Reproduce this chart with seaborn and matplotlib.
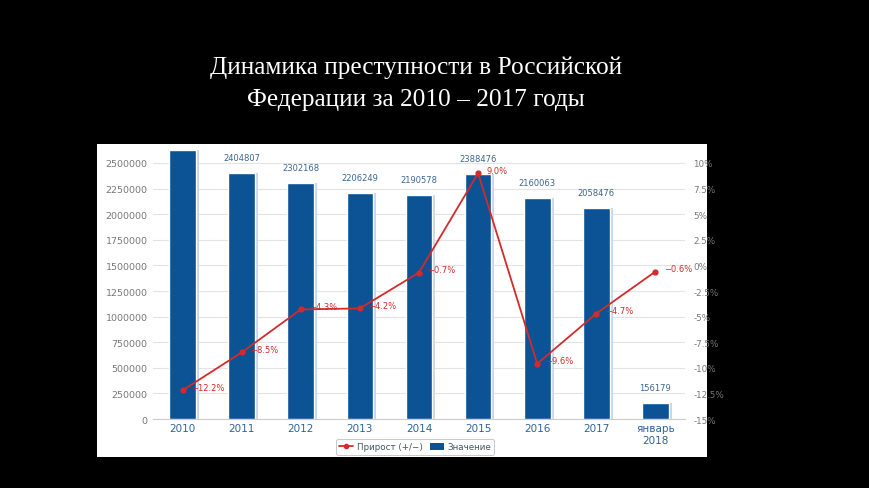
import matplotlib
matplotlib.use("Agg")
import matplotlib.pyplot as plt
import matplotlib.transforms as mtransforms
from matplotlib.patches import Rectangle, Patch
from matplotlib.lines import Line2D
import seaborn as sns
import pandas as pd

categories = ["2010", "2011", "2012", "2013", "2014", "2015", "2016", "2017", "январь\n2018"]
values = [2628799, 2404807, 2302168, 2206249, 2190578, 2388476, 2160063, 2058476, 156179]
growth = [-12.2, -8.5, -4.3, -4.2, -0.7, 9.0, -9.6, -4.7, -0.6]
left_ticks = [0, 250000, 500000, 750000, 1000000, 1250000, 1500000, 1750000, 2000000, 2250000, 2500000]
right_ticks = [-15, -12.5, -10, -7.5, -5, -2.5, 0, 2.5, 5, 7.5, 10]
right_labels = ["-15%", "-12.5%", "-10%", "-7.5%", "-5%", "-2.5%", "0%", "2.5%", "5%", "7.5%", "10%"]
title_lines = ["Динамика преступности в Российской", "Федерации за 2010 – 2017 годы"]
legend_labels = ["Прирост (+/−)", "Значение"]

df = pd.DataFrame({"cat": categories, "value": values, "growth": growth})

sns.set_theme(style="white")
plt.rcParams["font.family"] = ["DejaVu Sans"]

W, H = 870, 489
fig = plt.figure(figsize=(W / 100, H / 100), dpi=100, facecolor="black")

# white panel
fig.add_artist(Rectangle((97 / W, 1 - 458 / H), 610 / W, 313 / H,
                         transform=fig.transFigure, facecolor="white",
                         edgecolor="none", zorder=0))

for t, yy in zip(title_lines, [68, 100]):
    fig.text(416 / W, 1 - yy / H, t, color="white", ha="center", va="center",
             fontsize=18.2, family=["Liberation Serif", "DejaVu Serif"])

ax = fig.add_axes([153 / W, 1 - 420 / H, 532 / W, 273 / H])
ax.set_facecolor("white")

bar_color = "#0b5394"
sns.barplot(data=df, x="cat", y="value", order=categories, color=bar_color,
            width=0.45, saturation=1, ax=ax, zorder=3)

# subtle shadow to the right of each bar
for p in list(ax.patches):
    sh = Rectangle(p.get_xy(), p.get_width(), p.get_height(),
                   facecolor="#c9d6e6", edgecolor="none", zorder=2,
                   transform=mtransforms.offset_copy(ax.transData, fig=fig, x=3, y=0, units="dots"))
    ax.add_patch(sh)

top = 273 / 256 * 2500000
ax.set_ylim(0, top)
ax.set_xlim(-0.5, len(categories) - 0.5)
ax.set_yticks(left_ticks)
ax.set_yticklabels([str(v) for v in left_ticks])
ax.tick_params(axis="y", labelsize=6.8, colors="#777777", length=0, pad=4)
ax.tick_params(axis="x", labelsize=7.5, colors="#2e6399", length=0, pad=3)
ax.set_xlabel("")
ax.set_ylabel("")
ax.grid(axis="y", color="#e3e3e3", linewidth=0.8, zorder=0)
ax.set_axisbelow(True)
for s in ["top", "right", "left"]:
    ax.spines[s].set_visible(False)
ax.spines["bottom"].set_color("#cccccc")
ax.spines["bottom"].set_linewidth(0.8)

# value labels (clipped to the plotting area like the original)
for p, v in zip(ax.patches[:len(values)], values):
    ax.annotate(str(v), (p.get_x() + p.get_width() / 2, p.get_height()),
                xytext=(0, 8), textcoords="offset points", ha="center",
                va="bottom", fontsize=6, color="#3d6691", clip_on=True)

ax2 = ax.twinx()
ax2.set_position(ax.get_position())
sns.pointplot(data=df, x="cat", y="growth", order=categories, color="#d42a2a",
              markers="o", markersize=3.5, linewidth=1.3, ax=ax2, zorder=5)
ax2.set_ylim(-15, top / 100000 - 15)
ax2.set_xlim(-0.5, len(categories) - 0.5)
ax2.set_yticks(right_ticks)
ax2.set_yticklabels(right_labels)
ax2.tick_params(axis="y", labelsize=6.3, colors="#777777", length=0, pad=6)
ax2.set_ylabel("")
ax2.set_xlabel("")
for s in ax2.spines.values():
    s.set_visible(False)
ax2.grid(False)

for i, g in enumerate(growth):
    lbl = f"{g:.1f}%".replace("-", "−")
    ax2.annotate(lbl, (i, g), xytext=(6, 2), textcoords="offset points",
                 ha="left", va="center", fontsize=6, color="#d42a2a", zorder=6)

handles = [Line2D([0], [0], color="#d42a2a", marker="o", markersize=3, linewidth=1.3),
           Patch(facecolor=bar_color, edgecolor="none")]
leg = fig.legend(handles, legend_labels, loc="center", bbox_to_anchor=(415 / W, 1 - 448 / H),
                 ncol=2, fontsize=6.3, frameon=True, handlelength=1.6, handleheight=0.8,
                 columnspacing=0.8, handletextpad=0.4, borderpad=0.35, fancybox=True)
leg.get_frame().set_edgecolor("#bbbbbb")
leg.get_frame().set_linewidth(0.7)
for t in leg.get_texts():
    t.set_color("#445566")

fig.savefig("out.png", dpi=100, facecolor="black")
